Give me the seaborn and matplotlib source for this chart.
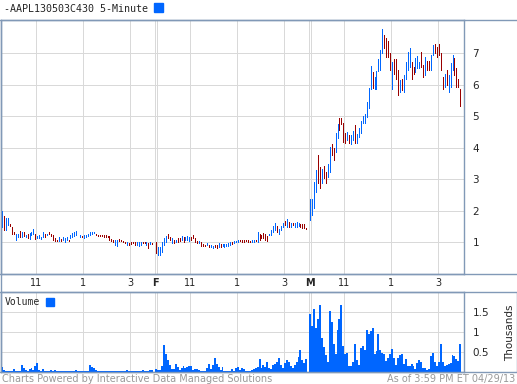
import numpy as np
import pandas as pd
import matplotlib
matplotlib.use("Agg")
import matplotlib.pyplot as plt
from matplotlib.lines import Line2D
from matplotlib.patches import Rectangle
import seaborn as sns

sns.set_style("white")
plt.rcParams['font.family'] = ['DejaVu Sans']

# 5-minute bars for three sessions (Thu, Fri, Mon), 78 bars each
# direction: B = up bar (blue), R = down bar (red)
thu_dir = "BRBBRRRBBR" "BRBRBBBRBB" "BBRBRRRRRB" "RBBBRBBBBR" "BRBBBBBBRR" "RRRRRRRRBB" "RRRRBRRRRB" "BBRRBRBR"
thu_high = [1.99, 1.83, 1.76, 1.76, 1.60, 1.49, 1.34, 1.28, 1.26, 1.36,
            1.34, 1.32, 1.23, 1.26, 1.31, 1.34, 1.44, 1.26, 1.20, 1.23,
            1.16, 1.34, 1.28, 1.28, 1.34, 1.28, 1.23, 1.13, 1.09, 1.16,
            1.11, 1.16, 1.13, 1.16, 1.09, 1.23, 1.31, 1.34, 1.37, 1.28,
            1.23, 1.21, 1.23, 1.23, 1.28, 1.32, 1.34, 1.34, 1.28, 1.25,
            1.25, 1.25, 1.23, 1.23, 1.20, 1.20, 1.11, 1.07, 1.07, 1.07,
            1.11, 1.07, 1.05, 1.02, 1.02, 0.97, 1.00, 1.02, 1.02, 1.00,
            1.00, 1.00, 1.02, 1.02, 1.00, 0.97, 1.02, 0.99]
thu_low = [1.49, 1.39, 1.39, 1.55, 1.53, 1.28, 1.26, 1.07, 1.18, 1.18,
           1.18, 1.21, 1.16, 1.13, 1.11, 1.23, 1.28, 1.11, 1.13, 1.13,
           1.11, 1.18, 1.18, 1.23, 1.26, 1.21, 1.07, 1.04, 1.04, 1.05,
           1.04, 1.07, 1.00, 1.09, 1.04, 1.13, 1.16, 1.20, 1.23, 1.26,
           1.16, 1.18, 1.13, 1.16, 1.20, 1.23, 1.28, 1.31, 1.23, 1.21,
           1.21, 1.21, 1.18, 1.16, 1.16, 1.09, 1.04, 1.02, 0.92, 0.89,
           1.04, 1.04, 1.00, 0.98, 0.92, 0.92, 0.95, 0.97, 0.92, 0.92,
           0.89, 0.92, 0.97, 0.97, 0.92, 0.81, 0.95, 0.96]
thu_vol = [0.12, 0.06, 0.03, 0.02, 0.02, 0.02, 0.08, 0.02, 0.02, 0.03,
           0.17, 0.10, 0.05, 0.03, 0.08, 0.10, 0.04, 0.15, 0.23, 0.05,
           0.02, 0.08, 0.02, 0.02, 0.02, 0.05, 0.02, 0.06, 0.02, 0.02,
           0.02, 0.02, 0.02, 0.02, 0.02, 0.02, 0.02, 0.02, 0.04, 0.02,
           0.02, 0.02, 0.02, 0.02, 0.02, 0.17, 0.12, 0.10, 0.05, 0.02,
           0.02, 0.02, 0.02, 0.02, 0.02, 0.02, 0.02, 0.03, 0.02, 0.02,
           0.02, 0.02, 0.02, 0.02, 0.06, 0.02, 0.02, 0.02, 0.02, 0.02,
           0.02, 0.02, 0.04, 0.02, 0.02, 0.02, 0.05, 0.06]

fri_dir = "RBBBBBRRBR" "BRRBRBBBRR" "RRBRRRBRBB" "RRBRBBBBBR" "BBBRRRRRRB" "BRBRRRRRBB" "BBRBBBRBRB" "RBBBRRRR"
fri_high = [1.00, 0.86, 0.86, 1.02, 1.13, 1.20, 1.28, 1.18, 1.13, 1.09,
            1.09, 1.13, 1.13, 1.21, 1.18, 1.18, 1.21, 1.18, 1.18, 1.23,
            1.13, 1.05, 1.05, 1.02, 0.95, 0.92, 0.97, 0.92, 0.92, 0.89,
            0.92, 0.92, 0.97, 0.95, 0.94, 0.95, 0.95, 0.97, 1.00, 1.02,
            1.04, 1.05, 1.07, 1.07, 1.07, 1.07, 1.09, 1.09, 1.04, 1.09,
            1.09, 1.09, 1.32, 1.28, 1.23, 1.31, 1.26, 1.20, 1.28, 1.39,
            1.52, 1.62, 1.52, 1.44, 1.52, 1.62, 1.67, 1.73, 1.65, 1.62,
            1.62, 1.62, 1.65, 1.62, 1.60, 1.60, 1.57, 1.46]
fri_low = [0.67, 0.60, 0.60, 0.71, 0.92, 1.02, 1.13, 1.07, 0.97, 0.99,
           1.02, 1.02, 1.05, 1.07, 1.02, 1.07, 1.09, 1.05, 1.07, 1.13,
           1.02, 0.99, 0.97, 0.89, 0.88, 0.88, 0.92, 0.86, 0.86, 0.81,
           0.84, 0.81, 0.86, 0.86, 0.89, 0.86, 0.88, 0.88, 0.92, 0.95,
           0.97, 1.00, 1.02, 1.04, 1.02, 1.02, 1.04, 1.02, 1.00, 1.02,
           1.02, 1.04, 1.02, 1.09, 1.13, 1.13, 1.09, 1.04, 1.23, 1.25,
           1.32, 1.41, 1.34, 1.28, 1.39, 1.49, 1.55, 1.49, 1.49, 1.49,
           1.55, 1.49, 1.49, 1.52, 1.49, 1.47, 1.47, 1.42]
fri_vol = [0.07, 0.05, 0.04, 0.15, 0.68, 0.45, 0.30, 0.17, 0.07, 0.08,
           0.21, 0.13, 0.06, 0.10, 0.14, 0.10, 0.13, 0.15, 0.16, 0.05,
           0.08, 0.07, 0.04, 0.02, 0.02, 0.02, 0.10, 0.21, 0.08, 0.17,
           0.34, 0.20, 0.12, 0.04, 0.12, 0.03, 0.02, 0.02, 0.02, 0.07,
           0.03, 0.11, 0.13, 0.06, 0.10, 0.07, 0.02, 0.02, 0.02, 0.04,
           0.07, 0.09, 0.13, 0.32, 0.10, 0.17, 0.13, 0.26, 0.10, 0.08,
           0.18, 0.20, 0.25, 0.34, 0.17, 0.10, 0.22, 0.30, 0.26, 0.15,
           0.10, 0.17, 0.25, 0.38, 0.56, 0.30, 0.22, 0.32]

mon_dir = "BBBBRRBRRB" "BRRBBRRRRB" "RBBRBBBBBB" "BBRBBBBBRR" "RRBRRRBRBB" "BBRRBBBRRB" "RRBBRRRRRB" "RBBBRRRR"
mon_high = [2.37, 2.37, 2.92, 3.29, 3.77, 3.40, 3.34, 3.43, 3.24, 3.50,
            4.03, 4.12, 3.98, 4.48, 4.75, 4.95, 4.95, 4.78, 4.46, 4.51,
            4.40, 4.40, 4.53, 4.72, 4.44, 4.62, 4.86, 5.01, 5.06, 5.46,
            5.89, 6.58, 6.39, 6.24, 6.42, 6.82, 7.11, 7.77, 7.56, 7.48,
            7.38, 7.00, 6.73, 6.81, 6.81, 6.46, 6.14, 6.19, 6.32, 6.71,
            7.05, 7.16, 6.73, 6.57, 6.84, 6.92, 6.73, 7.03, 6.62, 6.89,
            6.76, 6.76, 6.95, 7.27, 7.29, 7.19, 7.29, 7.00, 6.23, 6.35,
            6.46, 6.30, 6.68, 6.95, 6.84, 6.52, 6.19, 5.85]
mon_low = [1.70, 1.86, 2.09, 2.60, 2.87, 2.71, 2.87, 3.03, 2.87, 3.08,
           3.24, 3.77, 3.61, 3.87, 4.30, 4.56, 4.75, 4.19, 4.14, 4.24,
           4.14, 4.11, 4.24, 4.16, 4.14, 4.35, 4.46, 4.80, 4.80, 4.99,
           5.25, 5.87, 5.89, 5.86, 5.86, 6.42, 6.46, 7.00, 7.16, 6.89,
           6.89, 6.46, 5.87, 6.35, 6.19, 5.66, 5.78, 5.82, 5.76, 6.19,
           6.46, 6.57, 6.19, 6.35, 6.41, 6.52, 6.52, 6.57, 6.25, 6.30,
           6.46, 6.46, 6.46, 6.95, 7.00, 6.89, 6.95, 6.46, 5.87, 5.92,
           5.98, 5.76, 5.92, 6.46, 6.30, 5.92, 5.92, 5.33]
mon_vol = [1.45, 1.15, 1.58, 1.10, 1.32, 1.68, 0.86, 0.62, 0.42, 0.26,
           1.53, 1.25, 0.70, 0.45, 1.05, 1.32, 1.68, 0.65, 0.45, 0.47,
           0.14, 0.14, 0.26, 0.70, 0.30, 0.18, 0.60, 0.64, 0.55, 1.05,
           0.94, 1.03, 1.11, 0.45, 0.52, 0.94, 0.56, 0.47, 0.45, 0.28,
           0.35, 0.45, 0.58, 0.35, 0.18, 0.35, 0.43, 0.45, 0.20, 0.33,
           0.16, 0.15, 0.20, 0.14, 0.08, 0.22, 0.30, 0.25, 0.10, 0.09,
           0.05, 0.08, 0.40, 0.47, 0.25, 0.14, 0.26, 0.69, 0.25, 0.14,
           0.18, 0.20, 0.22, 0.42, 0.40, 0.32, 0.28, 0.70]

tick_labels = ["11", "1", "3", "F", "11", "1", "3", "M", "11", "1", "3"]

BLUE = "#0066ff"
RED = "#990000"
GRID = "#d9d9d9"
FRAME = "#8199b7"

# minutes from first session open; each session is 390 min, sessions 395 apart
SESSION = 395
frames = []
for d, (hi, lo, dr, vol) in enumerate([(thu_high, thu_low, thu_dir, thu_vol),
                                       (fri_high, fri_low, fri_dir, fri_vol),
                                       (mon_high, mon_low, mon_dir, mon_vol)]):
    frames.append(pd.DataFrame({
        't': d * SESSION + 5 * np.arange(len(hi)) + 2.5,
        'high': hi, 'low': lo, 'dir': list(dr), 'volume': vol}))
df = pd.concat(frames, ignore_index=True)
df['color'] = np.where(df['dir'] == 'B', BLUE, RED)

W, H = 517, 384
fig = plt.figure(figsize=(W / 100, H / 100), dpi=100)


def box(l, t, r, b):
    return [l / W, 1 - b / H, (r - l) / W, (b - t) / H]


ax = fig.add_axes(box(0.5, 20, 464, 274))
axv = fig.add_axes(box(0.5, 292, 464, 372))

xmax = 1187
grid_x = []
for d in range(3):
    grid_x += [d * SESSION + 90, d * SESSION + 210, d * SESSION + 330]
label_x = grid_x[:3] + [SESSION + 1] + grid_x[3:6] + [2 * SESSION + 1] + grid_x[6:]
sep_x = [SESSION - 1, SESSION + 4, 2 * SESSION - 1, 2 * SESSION + 4]

LW = 0.6
for a in (ax, axv):
    a.set_xlim(-2, xmax)
    for gx in grid_x + sep_x:
        a.axvline(gx, color=GRID, lw=LW, zorder=0, antialiased=False)
    for s in a.spines.values():
        s.set_color(FRAME)
        s.set_linewidth(1)

# price panel
ax.set_ylim(0, 8.05)
for gy in range(1, 8):
    ax.axhline(gy, color=GRID, lw=LW, zorder=0, antialiased=False)
ax.vlines(df['t'], df['low'], df['high'], colors=df['color'], lw=LW,
          zorder=3, antialiased=False)
ax.yaxis.tick_right()
ax.set_yticks(range(1, 8))
ax.set_yticklabels([str(v) for v in range(1, 8)])
ax.set_xticks(label_x)
ax.set_xticklabels(tick_labels)
ax.tick_params(axis='x', length=0, pad=3, labelsize=7)
ax.tick_params(axis='y', length=0, pad=6, labelsize=7.5)
for lab in ax.get_xticklabels():
    if lab.get_text() in ("F", "M"):
        lab.set_fontweight("bold")

# volume panel
axv.bar(df['t'], df['volume'], width=5, color=BLUE, linewidth=0, zorder=3)
axv.set_ylim(0, 2.0)
for gy in (0.5, 1.0, 1.5):
    axv.axhline(gy, color=GRID, lw=LW, zorder=0, antialiased=False)
axv.set_xlim(-2, xmax)
axv.set_xticks([])
axv.yaxis.tick_right()
axv.set_yticks([0.5, 1.0, 1.5])
axv.set_yticklabels(["0.5", "1", "1.5"])
axv.tick_params(axis='y', length=0, pad=6, labelsize=7.5)

# outer frame lines
for y in (20, 274, 292, 372):
    fig.add_artist(Line2D([0, 1], [1 - y / H] * 2, color=FRAME, lw=1))
fig.add_artist(Line2D([516.5 / W] * 2, [1 - 372 / H, 1 - 292 / H], color=FRAME, lw=1))
fig.add_artist(Line2D([0.5 / W] * 2, [1 - 372 / H, 1 - 20 / H], color=FRAME, lw=1))

# titles and labels
fig.text(4 / W, 1 - 9 / H, "-AAPL130503C430 5-Minute", family="DejaVu Sans Mono",
         fontsize=7.2, va="center", ha="left")
fig.add_artist(Rectangle((154 / W, 1 - 12 / H), 9 / W, 9 / H, color=BLUE,
                         transform=fig.transFigure))
fig.text(5 / W, 1 - 302 / H, "Volume", family="DejaVu Sans Mono",
         fontsize=7, va="center", ha="left")
fig.add_artist(Rectangle((46 / W, 1 - 306 / H), 8 / W, 8 / H, color=BLUE,
                         transform=fig.transFigure))
fig.text(510 / W, 1 - 333 / H, "Thousands", rotation=90, fontsize=7.5,
         va="center", ha="center")
fig.text(2 / W, 1 - 379 / H, "Charts Powered by Interactive Data Managed Solutions",
         color="#999999", fontsize=7, va="center", ha="left")
fig.text(515 / W, 1 - 379 / H, "As of 3:59 PM ET 04/29/13",
         color="#999999", fontsize=7, va="center", ha="right")

fig.savefig("out.png", dpi=100)
